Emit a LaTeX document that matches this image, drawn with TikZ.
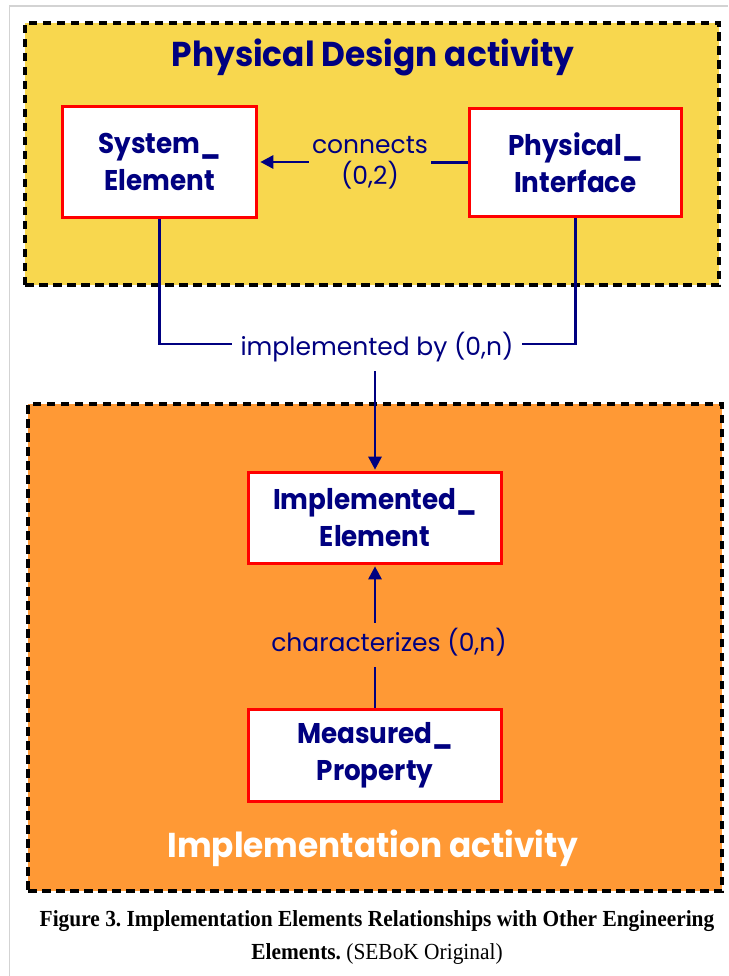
\documentclass[tikz,border=0pt]{standalone}
\usepackage{fontspec}
\setmainfont{Poppins}
\newfontfamily\pop{Poppins}
\newfontfamily\popn{Poppins}[FakeStretch=0.92]
\newfontfamily\popt{Poppins}[FakeStretch=0.95]
\newfontfamily\capfont{Liberation Serif}[FakeStretch=0.93]
\usetikzlibrary{arrows.meta}
\definecolor{navy}{HTML}{000080}
\definecolor{ylw}{HTML}{F8D74E}
\definecolor{org}{HTML}{FF9935}
\definecolor{framegray}{HTML}{D3D3D3}
\frenchspacing
\begin{document}
\begin{tikzpicture}[x=1pt,y=-1pt,
  entity/.style={draw=red, line width=3.6pt, fill=white, text=navy,
    font=\popn\bfseries\fontsize{28.5}{37}\selectfont, align=center, inner sep=0pt},
  rel/.style={text=navy, font=\pop\fontsize{25}{31}\selectfont, align=center},
  rel1/.style={rel, text height=18pt, text depth=6pt, inner ysep=10pt, inner xsep=8pt},
  conn/.style={draw=navy, line width=2.8pt},
  arr/.style={conn, -{Triangle[length=13pt,width=13pt]}},
  zone/.style={draw=black, line width=3.4pt, dash pattern=on 8.5pt off 5.5pt, inner sep=0pt},
  zonetitle/.style={font=\popt\bfseries\fontsize{34.5}{40}\selectfont}
]
\useasboundingbox (0,0) rectangle (728,976);
\fill[white] (0,0) rectangle (728,976);
\draw[framegray, line width=1.5pt] (9.5,976) |- (728,6);

% zones
\node[zone, fill=ylw, minimum width=694pt, minimum height=262pt] (pd) at (372,154) {};
\node[zone, fill=org, minimum width=694pt, minimum height=487pt] (ia) at (375,647.5) {};
\node[zonetitle, text=navy] (pdt) at (373,57) {Physical Design activity};
\node[zonetitle, text=white] (iat) at (373,848) {Implementation activity};

% entities
\node[entity, minimum width=194pt, minimum height=111pt] (se) at (159.5,162) {System\_\\Element};
\node[entity, minimum width=212pt, minimum height=108pt] (pi) at (575.5,162.5) {Physical\_\\Interface};
\node[entity, minimum width=253pt, minimum height=91pt] (ie) at (375,518) {Implemented\_\\Element};
\node[entity, minimum width=253pt, minimum height=92pt] (mp) at (375,755.5) {Measured\_\\Property};

% relation labels
\node[rel, inner xsep=3pt] (conn) at (370,163) {connects\\(0,2)};
\node[rel1] (impl) at (377,349) {implemented by (0,n)};
\node[rel1] (cha) at (389,645) {characterizes (0,n)};

% connectors
\draw[conn] (pi.west) -- (conn.east |- pi.west);
\draw[arr, shorten >=2pt] (conn.west |- se.east) -- (se.east);
\draw[conn] (se.south) |- ([yshift=5pt]impl.west);
\draw[conn] (pi.south) |- ([yshift=5pt]impl.east);
\draw[arr, shorten >=1pt] (impl.south -| ie.north) -- (ie.north);
\draw[conn] (mp.north) -- (mp.north |- cha.south);
\draw[arr, shorten >=1pt] (ie.south |- cha.north) -- (ie.south);

% caption
\node[font=\capfont\fontsize{23}{33}\selectfont, align=center] (cap) at (377,937)
  {\textbf{Figure 3. Implementation Elements Relationships with Other Engineering}\\
   \textbf{Elements.} (SEBoK Original)};
\end{tikzpicture}
\end{document}
